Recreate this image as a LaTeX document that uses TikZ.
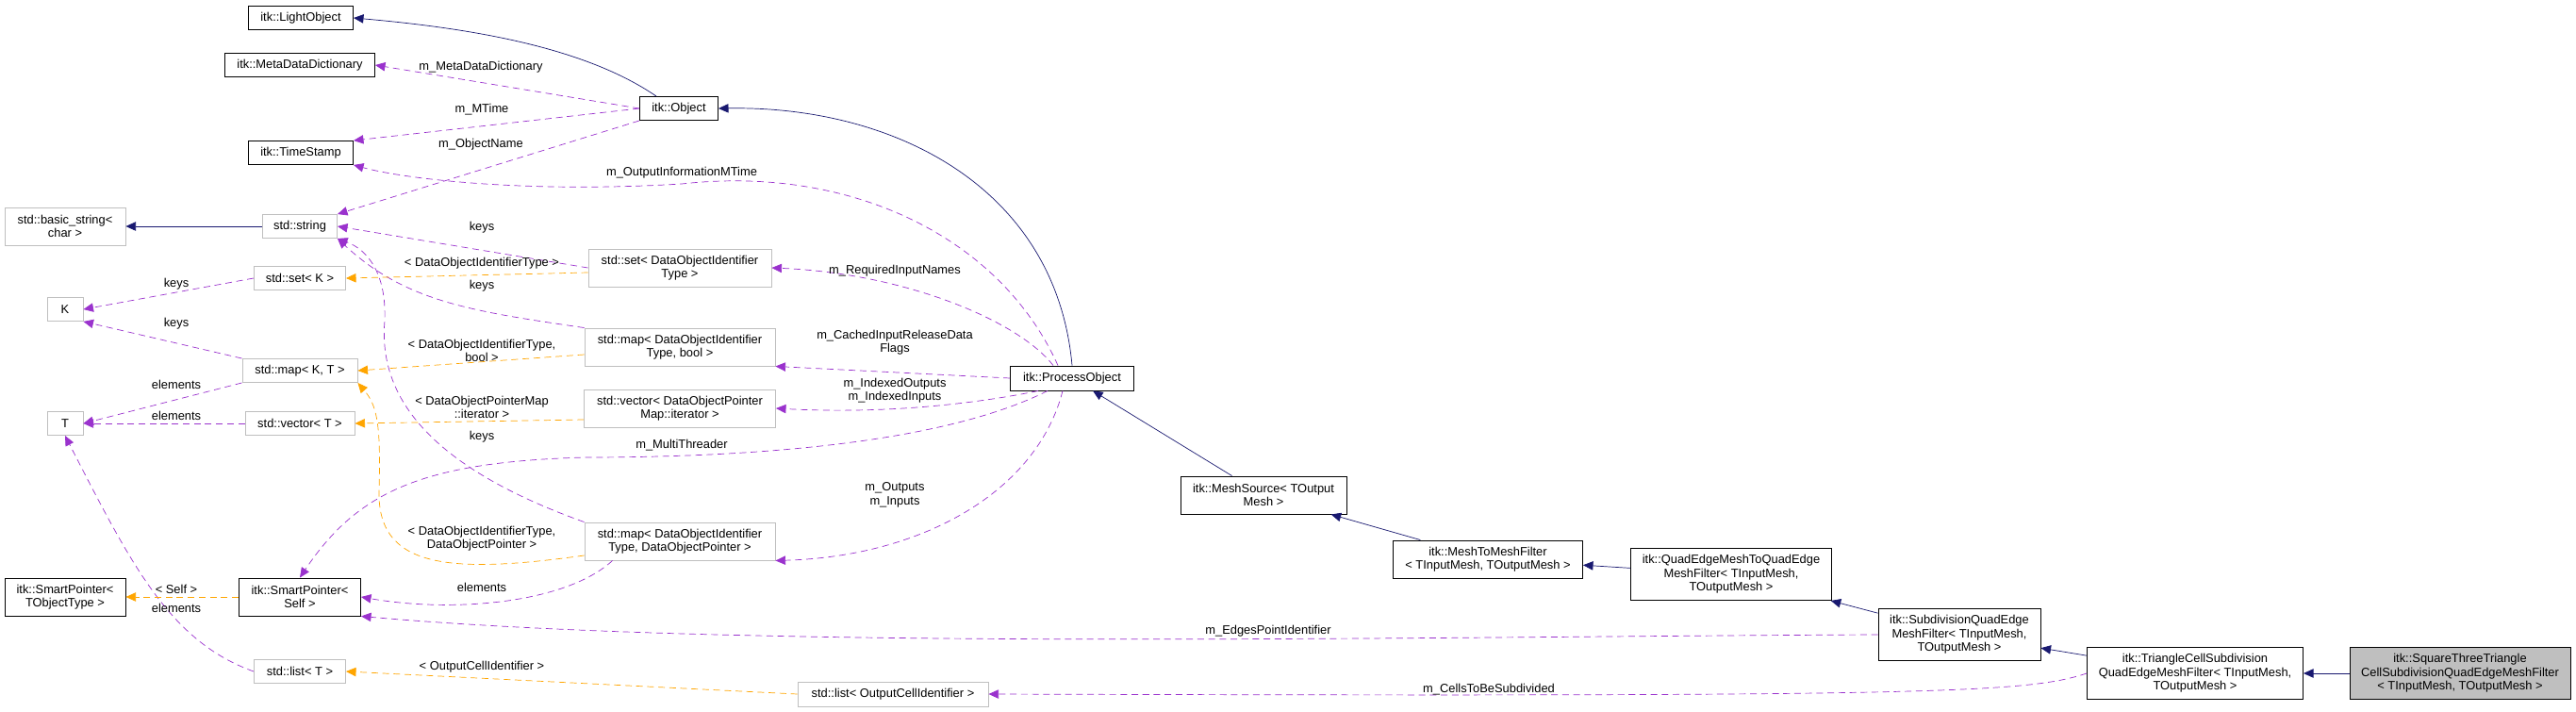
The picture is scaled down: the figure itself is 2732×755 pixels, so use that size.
\documentclass[tikz,border=0pt]{standalone}
\usepackage{fontspec}
\setmainfont{Liberation Sans}
\usetikzlibrary{arrows.meta}

\definecolor{inherit}{HTML}{191970}
\definecolor{member}{HTML}{9A32CD}
\definecolor{templ}{HTML}{FFA500}
\definecolor{extbox}{HTML}{BFBFBF}

\tikzset{
  cls/.style={draw=black, thick, fill=white, inner sep=1pt, align=center, font=\fontsize{11}{12.5}\selectfont},
  ext/.style={cls, draw=extbox},
  focus/.style={cls, fill=extbox},
  lbl/.style={font=\fontsize{11}{12.5}\selectfont, align=center, inner sep=0pt},
  isa/.style={draw=inherit, semithick, -{Triangle[length=9pt,width=8pt,fill=inherit]}},
  use/.style={draw=member, semithick, dash pattern=on 6pt off 4pt, -{Triangle[length=9pt,width=8pt,fill=member]}},
  tpl/.style={draw=templ, semithick, dash pattern=on 6pt off 4pt, -{Triangle[length=9pt,width=8pt,fill=templ]}},
}

\begin{document}
\begin{tikzpicture}[x=0.03cm, y=-0.03cm]
  \useasboundingbox (0,0) rectangle (2732,755);

  % classes
  \node[cls, minimum width=111*0.03cm, minimum height=25*0.03cm] (light) at (319,19)  {itk::LightObject};
  \node[cls, minimum width=159*0.03cm, minimum height=25*0.03cm] (meta)  at (318,69)  {itk::MetaDataDictionary};
  \node[cls, minimum width=111*0.03cm, minimum height=25*0.03cm] (stamp) at (319,162) {itk::TimeStamp};
  \node[cls, minimum width=83*0.03cm,  minimum height=25*0.03cm] (obj)   at (720,115) {itk::Object};
  \node[ext, minimum width=128*0.03cm, minimum height=40*0.03cm] (bstr)  at (69,240)  {std::basic\_string\textless\\char \textgreater};
  \node[ext, minimum width=79*0.03cm,  minimum height=25*0.03cm] (str)   at (318,240) {std::string};
  \node[ext, minimum width=97*0.03cm,  minimum height=25*0.03cm] (setk)  at (318,295) {std::set\textless{} K \textgreater};
  \node[ext, minimum width=38*0.03cm,  minimum height=25*0.03cm] (k)     at (69,328)  {K};
  \node[ext, minimum width=194*0.03cm, minimum height=40*0.03cm] (setid) at (721,284) {std::set\textless{} DataObjectIdentifier\\Type \textgreater};
  \node[ext, minimum width=202*0.03cm, minimum height=40*0.03cm] (mapb)  at (721,368) {std::map\textless{} DataObjectIdentifier\\Type, bool \textgreater};
  \node[ext, minimum width=122*0.03cm, minimum height=25*0.03cm] (mapkt) at (318,393) {std::map\textless{} K, T \textgreater};
  \node[ext, minimum width=38*0.03cm,  minimum height=25*0.03cm] (t)     at (69,449)  {T};
  \node[ext, minimum width=116*0.03cm, minimum height=25*0.03cm] (vect)  at (318,449) {std::vector\textless{} T \textgreater};
  \node[ext, minimum width=203*0.03cm, minimum height=40*0.03cm] (vecp)  at (721,433) {std::vector\textless{} DataObjectPointer\\Map::iterator \textgreater};
  \node[ext, minimum width=202*0.03cm, minimum height=40*0.03cm] (mapp)  at (721,574) {std::map\textless{} DataObjectIdentifier\\Type, DataObjectPointer \textgreater};
  \node[cls, minimum width=128*0.03cm, minimum height=40*0.03cm] (spobj) at (69,633)  {itk::SmartPointer\textless\\TObjectType \textgreater};
  \node[cls, minimum width=129*0.03cm, minimum height=40*0.03cm] (spself) at (318,633) {itk::SmartPointer\textless\\Self \textgreater};
  \node[ext, minimum width=97*0.03cm,  minimum height=25*0.03cm] (listt) at (318,712) {std::list\textless{} T \textgreater};
  \node[cls, minimum width=131*0.03cm, minimum height=26*0.03cm] (proc)  at (1137,401) {itk::ProcessObject};
  \node[ext, minimum width=202*0.03cm, minimum height=26*0.03cm] (listc) at (947,736) {std::list\textless{} OutputCellIdentifier \textgreater};
  \node[cls, minimum width=176*0.03cm, minimum height=40*0.03cm] (src)   at (1340,525) {itk::MeshSource\textless{} TOutput\\Mesh \textgreater};
  \node[cls, minimum width=201*0.03cm, minimum height=40*0.03cm] (m2m)   at (1578,593) {itk::MeshToMeshFilter\\\textless{} TInputMesh, TOutputMesh \textgreater};
  \node[cls, minimum width=213*0.03cm, minimum height=55*0.03cm] (qe2qe) at (1836,609) {itk::QuadEdgeMeshToQuadEdge\\MeshFilter\textless{} TInputMesh,\\TOutputMesh \textgreater};
  \node[cls, minimum width=172*0.03cm, minimum height=55*0.03cm] (subd)  at (2078,673) {itk::SubdivisionQuadEdge\\MeshFilter\textless{} TInputMesh,\\TOutputMesh \textgreater};
  \node[cls, minimum width=229*0.03cm, minimum height=55*0.03cm] (tri)   at (2328,714) {itk::TriangleCellSubdivision\\QuadEdgeMeshFilter\textless{} TInputMesh,\\TOutputMesh \textgreater};
  \node[focus, minimum width=234*0.03cm, minimum height=55*0.03cm] (sq)  at (2609,714) {itk::SquareThreeTriangle\\CellSubdivisionQuadEdgeMeshFilter\\\textless{} TInputMesh, TOutputMesh \textgreater};

  % inheritance
  \draw[isa] (obj.north west) ++(18,0) .. controls (620,50) and (500,30) .. (light.east);
  \draw[isa] (proc.north) .. controls (1120,200) and (950,112) .. (obj.east);
  \draw[isa] (str) -- (bstr);
  \draw[isa] (src) -- (proc);
  \draw[isa] (m2m) -- (src);
  \draw[isa] (qe2qe) -- (m2m);
  \draw[isa] (subd) -- (qe2qe);
  \draw[isa] (tri) -- (subd);
  \draw[isa] (sq) -- (tri);

  % members
  \draw[use] (obj.west) -- (meta.east);
  \draw[use] (obj.west) -- (stamp.north east);
  \draw[use] (obj.south west) -- (str.north east);
  \draw[use] (proc.north) ++(-15,0) .. controls (1060,250) and (900,175) .. (723,195) .. controls (560,205) and (430,190) .. (stamp.south east);
  \draw[use] (setid.west) -- (str.east);
  \draw[use] (mapb.north west) .. controls (500,330) and (430,320) .. (str.south east);
  \draw[use] (mapp.north west) .. controls (470,500) and (400,430) .. (408,340) .. controls (410,290) and (390,265) .. (str.south east);
  \draw[use] (setk.west) -- (k.east);
  \draw[use] (mapkt.north west) -- (k.south east);
  \draw[use] (mapkt.south west) -- (t.east);
  \draw[use] (vect) -- (t);
  \draw[use] (listt.west) .. controls (180,680) and (140,600) .. (t.south);
  \draw[use] (proc.north) ++(-20,0) .. controls (1080,340) and (960,290) .. (setid.east);
  \draw[use] (proc.west) -- (mapb.south east);
  \draw[use] (proc.south west) ++(30,0) .. controls (1050,425) and (950,440) .. (vecp.east);
  \draw[use] (proc.south west) ++(40,0) .. controls (1000,470) and (800,485) .. (620,485) .. controls (450,490) and (380,520) .. (spself.north);
  \draw[use] (proc.south) ++(-10,0) .. controls (1100,520) and (980,590) .. (mapp.south east);
  \draw[use] (mapp.south west) ++(30,0) .. controls (600,640) and (480,650) .. (spself.east);
  \draw[use] (subd.west) .. controls (1500,675) and (800,690) .. (spself.south east);
  \draw[use] (tri.west) .. controls (2150,735) and (2050,739) .. (listc.east);

  % templates
  \draw[tpl] (setid.west) ++(0,5) -- (setk.east);
  \draw[tpl] (mapb.west) ++(0,8) -- (mapkt.east);
  \draw[tpl] (vecp.west) ++(0,12) -- (vect.east);
  \draw[tpl] (mapp.west) ++(0,15) .. controls (470,610) and (400,600) .. (402,520) .. controls (404,450) and (400,430) .. (mapkt.south east);
  \draw[tpl] (spself) -- (spobj);
  \draw[tpl] (listc.west) -- (listt.east);

  % labels
  \node[lbl] (lmeta) at (510,71)  {m\_MetaDataDictionary};
  \node[lbl] (lmt)   at (511,116) {m\_MTime};
  \node[lbl] (lon)   at (510,153) {m\_ObjectName};
  \node[lbl] (loim)  at (723,183) {m\_OutputInformationMTime};
  \node[lbl] (lk1)   at (511,241) {keys};
  \node[lbl] (ltid)  at (511,279) {\textless{} DataObjectIdentifierType \textgreater};
  \node[lbl] (lk2)   at (511,303) {keys};
  \node[lbl] (lk3)   at (187,301) {keys};
  \node[lbl] (lk4)   at (187,343) {keys};
  \node[lbl] (ltb)   at (511,372) {\textless{} DataObjectIdentifierType,\\bool \textgreater};
  \node[lbl] (lrin)  at (949,287) {m\_RequiredInputNames};
  \node[lbl] (lcir)  at (949,363) {m\_CachedInputReleaseData\\Flags};
  \node[lbl] (le1)   at (187,408) {elements};
  \node[lbl] (le2)   at (187,441) {elements};
  \node[lbl] (ltit)  at (511,432) {\textless{} DataObjectPointerMap\\::iterator \textgreater};
  \node[lbl] (lk5)   at (511,463) {keys};
  \node[lbl] (lio)   at (949,414) {m\_IndexedOutputs\\m\_IndexedInputs};
  \node[lbl] (lmth)  at (723,472) {m\_MultiThreader};
  \node[lbl] (lout)  at (949,525) {m\_Outputs\\m\_Inputs};
  \node[lbl] (ltdp)  at (511,571) {\textless{} DataObjectIdentifierType,\\DataObjectPointer \textgreater};
  \node[lbl] (le3)   at (511,623) {elements};
  \node[lbl] (lself) at (187,625) {\textless{} Self \textgreater};
  \node[lbl] (le4)   at (187,645) {elements};
  \node[lbl] (ltoc)  at (511,707) {\textless{} OutputCellIdentifier \textgreater};
  \node[lbl] (lepi)  at (1345,669) {m\_EdgesPointIdentifier};
  \node[lbl] (lctb)  at (1579,731) {m\_CellsToBeSubdivided};
\end{tikzpicture}
\end{document}
